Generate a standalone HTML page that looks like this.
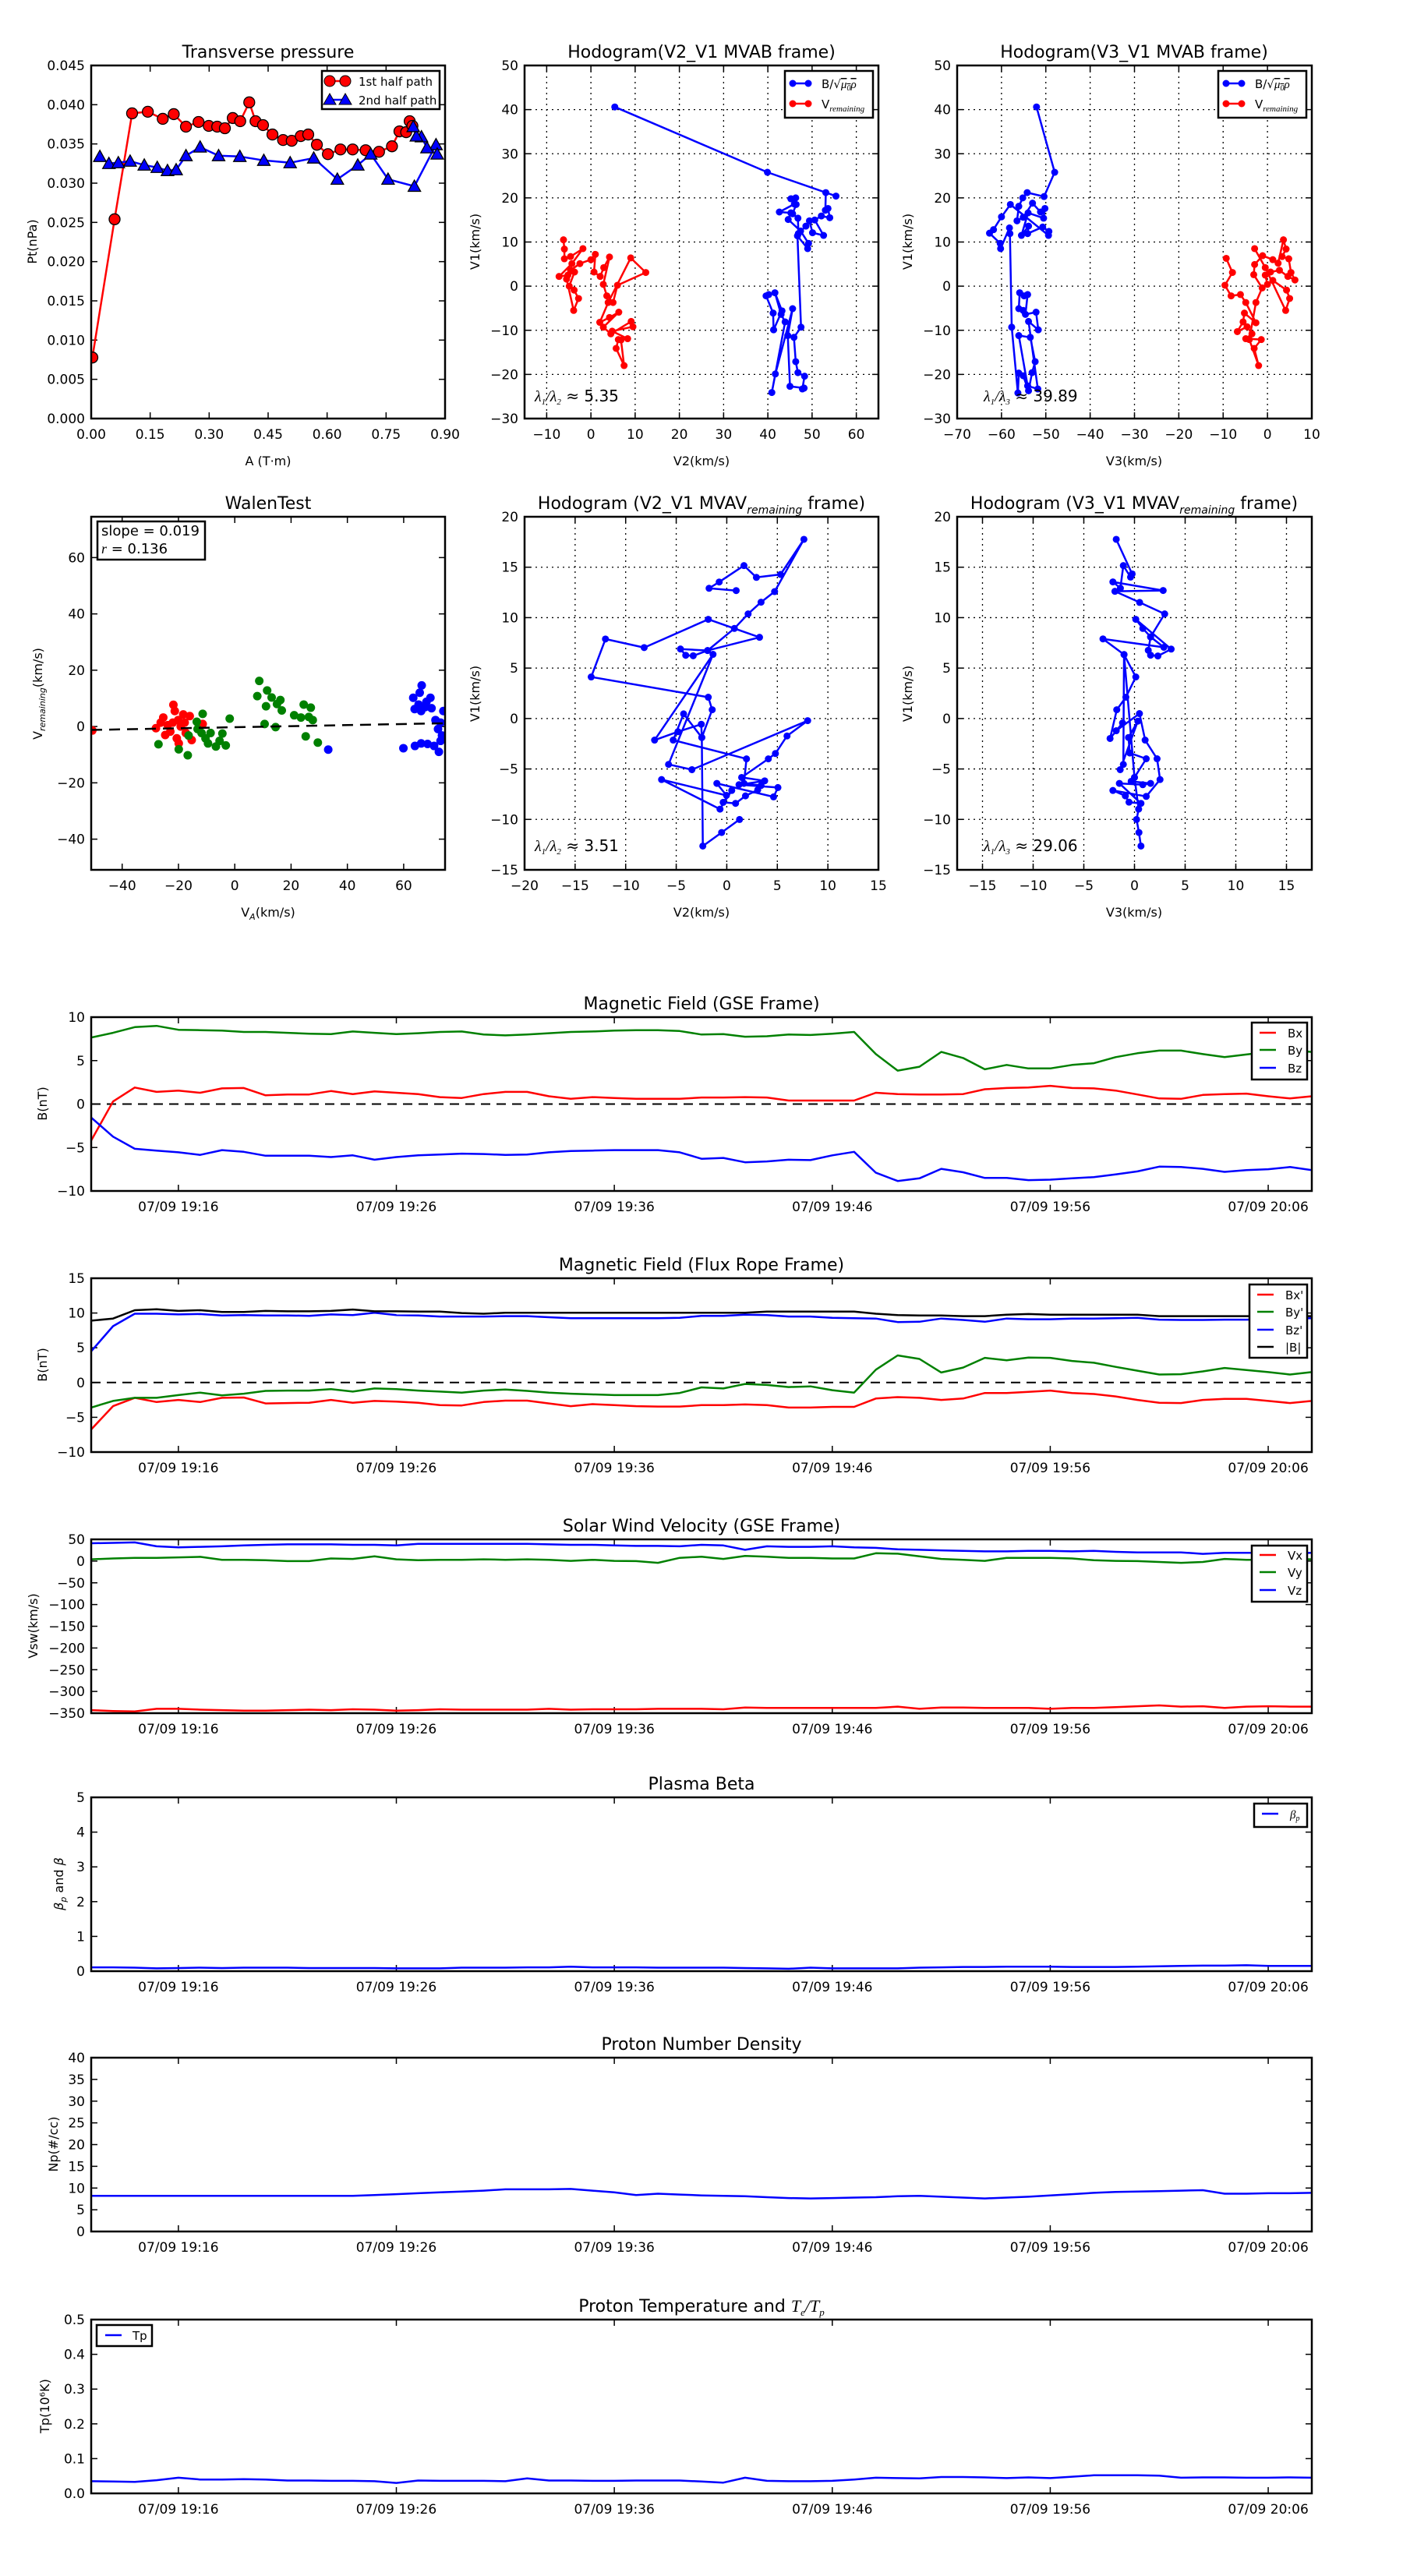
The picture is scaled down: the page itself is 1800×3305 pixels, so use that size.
<!DOCTYPE html>
<html><head><meta charset="utf-8"><title>Flux rope analysis</title>
<style>
html,body{margin:0;padding:0;background:#fff;}
svg text{font-family:"DejaVu Sans","Liberation Sans",sans-serif;fill:#000;}
.ttl{font-size:22px;text-anchor:middle;}
.lab{font-size:16px;text-anchor:middle;}
.leg{font-size:15px;}
</style></head>
<body>
<svg id="fig" width="1800" height="3300" xmlns="http://www.w3.org/2000/svg">
<rect x="0" y="0" width="1800" height="3300" fill="#fff"/>
<!-- titles -->
<text class="ttl" x="344" y="74">Transverse pressure</text>
<text class="ttl" x="900" y="74">Hodogram(V2_V1 MVAB frame)</text>
<text class="ttl" x="1455" y="74">Hodogram(V3_V1 MVAB frame)</text>
<text class="ttl" x="344" y="653">WalenTest</text>
<text class="ttl" x="900" y="653">Hodogram (V2_V1 MVAV<tspan font-size="14" font-style="italic" dy="6">remaining</tspan><tspan dy="-6"> frame)</tspan></text>
<text class="ttl" x="1455" y="653">Hodogram (V3_V1 MVAV<tspan font-size="14" font-style="italic" dy="6">remaining</tspan><tspan dy="-6"> frame)</tspan></text>
<text class="ttl" x="900" y="1295">Magnetic Field (GSE Frame)</text>
<text class="ttl" x="900" y="1630">Magnetic Field (Flux Rope Frame)</text>
<text class="ttl" x="900" y="1965">Solar Wind Velocity (GSE Frame)</text>
<text class="ttl" x="900" y="2296">Plasma Beta</text>
<text class="ttl" x="900" y="2630">Proton Number Density</text>
<text class="ttl" x="900" y="2966">Proton Temperature and <tspan font-style="italic" font-family="Liberation Serif">T<tspan font-size="13" dy="5">e</tspan><tspan dy="-5">/T</tspan><tspan font-size="13" dy="5">p</tspan></tspan></text>
<!-- axis labels -->
<text class="lab" x="344" y="597">A (T·m)</text>
<text class="lab" x="900" y="597">V2(km/s)</text>
<text class="lab" x="1455" y="597">V3(km/s)</text>
<text class="lab" x="344" y="1176">V<tspan font-size="11" font-style="italic" dy="4">A</tspan><tspan dy="-4">(km/s)</tspan></text>
<text class="lab" x="900" y="1176">V2(km/s)</text>
<text class="lab" x="1455" y="1176">V3(km/s)</text>
<text class="lab" transform="rotate(-90 41 310)" x="41" y="316">Pt(nPa)</text>
<text class="lab" transform="rotate(-90 609 310)" x="609" y="316">V1(km/s)</text>
<text class="lab" transform="rotate(-90 1164 310)" x="1164" y="316">V1(km/s)</text>
<text class="lab" transform="rotate(-90 48 890)" x="48" y="896">V<tspan font-size="11" font-style="italic" dy="4">remaining</tspan><tspan dy="-4">(km/s)</tspan></text>
<text class="lab" transform="rotate(-90 609 890)" x="609" y="896">V1(km/s)</text>
<text class="lab" transform="rotate(-90 1164 890)" x="1164" y="896">V1(km/s)</text>
<text class="lab" transform="rotate(-90 54 1416)" x="54" y="1422">B(nT)</text>
<text class="lab" transform="rotate(-90 54 1751)" x="54" y="1757">B(nT)</text>
<text class="lab" transform="rotate(-90 42 2086)" x="42" y="2092">Vsw(km/s)</text>
<text class="lab" transform="rotate(-90 75 2417)" x="75" y="2423"><tspan font-style="italic">β<tspan font-size="11" dy="4">p</tspan></tspan><tspan dy="-4"> and </tspan><tspan font-style="italic">β</tspan></text>
<text class="lab" transform="rotate(-90 68 2751)" x="68" y="2757">Np(#/cc)</text>
<text class="lab" transform="rotate(-90 57 3087)" x="57" y="3093">Tp(10⁶K)</text>
</svg>
<script>
// ---------------- DATA ----------------
// Transverse pressure
const tpA1 = [0.003,0.0595,0.104,0.144,0.182,0.210,0.241,0.273,0.299,0.3205,0.340,0.360,0.379,0.402,0.418,0.437,0.461,0.488,0.510,0.533,0.552,0.574,0.602,0.634,0.665,0.698,0.732,0.765,0.784,0.801,0.810,0.817];
const tpP1 = [0.00778,0.0254,0.0389,0.0391,0.0382,0.0388,0.0372,0.0378,0.0373,0.0372,0.0370,0.0383,0.0379,0.0403,0.0379,0.0374,0.0362,0.0355,0.0354,0.0360,0.0362,0.0349,0.0337,0.0343,0.0343,0.0342,0.0340,0.0347,0.0366,0.0365,0.0379,0.0373];
const tpA2 = [0.022,0.045,0.069,0.099,0.135,0.168,0.194,0.216,0.241,0.277,0.324,0.378,0.439,0.506,0.566,0.626,0.678,0.711,0.755,0.822,0.877,0.880,0.854,0.840,0.827,0.819];
const tpP2 = [0.0334,0.0325,0.0326,0.0328,0.0323,0.0320,0.0316,0.0317,0.0335,0.0346,0.0335,0.0334,0.0329,0.0326,0.0332,0.0305,0.0323,0.0337,0.0305,0.0296,0.0349,0.0337,0.0345,0.0359,0.0360,0.0372];
const tpXTicks = [0,0.15,0.30,0.45,0.60,0.75,0.90];
const tpXLabels = ["0.00","0.15","0.30","0.45","0.60","0.75","0.90"];
const tpYTicks = [0,0.005,0.010,0.015,0.020,0.025,0.030,0.035,0.040,0.045];
const tpYLabels = ["0.000","0.005","0.010","0.015","0.020","0.025","0.030","0.035","0.040","0.045"];

// Hodogram V2-V1 MVAB
const h2bX = [5.4,39.9,55.4,53.1,53.0,53.6,54.0,52.1,50.6,52.6,50.1,49.4,48.6,46.9,46.8,45.6,46.4,45.2,46.3,46.0,42.6,45.2,44.6,47.4,49.2,49.0,46.7,47.5,45.9,46.3,46.8,48.3,47.8,48.2,45.0,44.5,45.6,41.7,40.9,43.9,43.0,41.6,43.2,41.3,41.2,39.6,40.2];
const h2bY = [40.6,25.8,20.4,21.2,17.2,17.6,15.5,15.9,15.0,11.5,12.1,14.8,13.6,11.9,15.4,16.4,18.5,19.8,20.0,18.6,16.8,16.6,15.1,12.5,9.7,8.5,11.4,-9.3,-11.6,-17.1,-19.6,-20.4,-23.3,-23.1,-22.7,-11.2,-5.1,-19.9,-24.1,-8.1,-6.4,-1.5,-5.6,-9.9,-6.1,-2.2,-1.9];
const h2vX = [-6.2,-6.0,-6.0,-4.6,-1.8,-4.3,-7.2,-5.2,-3.7,-4.9,-3.8,-2.8,-3.9,-5.5,-4.6,-2.5,0,1.0,0.7,2.1,2.9,4.2,2.8,3.6,5.0,6.0,12.4,9.0,3.9,2.0,4.2,6.3,2.8,4.5,9.1,9.5,4.8,8.3,6.2,5.7,7.5,6.8];
const h2vY = [10.5,8.4,6.2,6.7,8.5,5.1,2.2,2.5,3.2,0.0,-0.9,-2.8,-5.5,1.6,3.6,5.1,6.0,7.2,3.2,2.2,4.2,6.6,0.4,-2.2,-3.7,0.2,3.1,6.4,-3.7,-8.2,-7.1,-5.9,-9.3,-10.8,-8.0,-9.2,-10.2,-11.9,-12.1,-14.1,-18.0,-12.2];
const h2XTicks = [-10,0,10,20,30,40,50,60];
const h2XLabels = ["−10","0","10","20","30","40","50","60"];
const h1YTicks = [-30,-20,-10,0,10,20,30,40,50];
const h1YLabels = ["−30","−20","−10","0","10","20","30","40","50"];

// Hodogram V3-V1 MVAB
const h3bX = [-52.1,-48.0,-50.4,-54.2,-55.2,-56.1,-56.5,-55.1,-53.0,-51.2,-50.2,-50.5,-54.0,-55.5,-53.9,-54.1,-50.7,-49.3,-49.4,-58.0,-60.0,-61.8,-62.7,-60.3,-60.2,-58.2,-58.1,-57.7,-56.3,-56.1,-55.1,-53.9,-53.1,-52.4,-53.5,-56.1,-54.1,-51.8,-53.9,-51.7,-52.2,-54.6,-54.1,-54.9,-55.9,-56.1,-55.1];
const h3bY = [40.6,25.8,20.3,21.2,20.0,18.1,14.8,15.6,18.8,16.8,17.6,15.4,16.6,11.5,13.6,11.9,13.4,12.4,11.5,18.5,15.7,12.8,12.0,9.7,8.5,13.2,11.9,-9.3,-24.2,-19.7,-20.3,-23.7,-19.6,-17.1,-11.6,-11.2,-22.6,-23.3,-8.0,-9.9,-5.9,-6.4,-1.9,-2.2,-1.5,-5.1,-5.5];
const h3vX = [-9.3,-7.9,-9.6,-8.2,-6.1,-4.9,-2.6,-5.2,-5.5,-6.8,-4.6,-3.5,-4.9,-1.4,-3.0,-2.0,-4.1,-2.6,-1.2,-3.1,-2.9,-1.1,1.2,2.4,3.6,4.2,3.3,4.8,5.3,6.2,4.6,2.7,0.7,-0.5,0.0,1.2,4.3,5.0,4.1,-0.5,-2.9];
const h3vY = [6.3,3.1,0.2,-2.2,-1.9,-3.7,-8.3,-6.1,-8.1,-10.3,-9.2,-10.8,-11.9,-12.1,-14.1,-18.0,-12.1,-3.7,-0.4,2.6,4.9,6.9,6.0,5.2,10.5,8.4,6.7,6.2,3.1,1.4,2.2,3.6,3.2,2.5,0.4,1.3,-0.9,-2.8,-5.5,4.2,8.5];
const h3XTicks = [-70,-60,-50,-40,-30,-20,-10,0,10];
const h3XLabels = ["−70","−60","−50","−40","−30","−20","−10","0","10"];

// Walen test
const walRedX = [-50.6,-21.8,-21.3,-25.4,-28,-26.3,-24.7,-22.9,-20.6,-19.9,-18.3,-16,-17.8,-15.3,-11.4,-22,-19.2,-17.4,-23.8,-20.1];
const walRedY = [-1.4,7.7,5.5,3.2,-0.6,1.4,-3.0,-1.8,-4.2,-6.0,4.3,3.7,1.4,-4.8,0.9,1.4,0,-2.3,0.5,2.3];
const walGreenX = [-27.1,-19.9,-16.7,-16.4,-13.5,-11.4,-13.2,-10.4,-8.6,-6.7,-4.4,-3.2,-1.8,-5.4,-9.5,-11.8,8.7,8.0,11.5,13.1,11.1,15.0,16.2,16.7,10.6,14.5,21.1,23.5,24.5,27.0,26.3,27.7,25.2,29.5];
const walGreenY = [-6.3,-8.1,-10.2,-3.2,1.7,4.5,-0.9,-4.2,-2.3,-7.1,-2.5,-6.7,2.8,-5.1,-6.0,-2.3,16.2,10.8,12.8,10.3,7.2,8.0,9.4,5.7,0.9,-0.2,4.0,3.2,7.8,6.7,3.4,2.3,-3.5,-5.7];
const walBlueX = [33.2,59.9,64.0,66.2,68.5,70.8,72.5,73.1,73.6,72.2,71.3,74.1,69.9,67.6,66.2,63.9,63.4,65.7,66.4,69.5,68.1,65.3,73.1];
const walBlueY = [-8.2,-7.7,-6.9,-6.0,-6.2,-6.9,-9.0,-5.1,-3.2,-0.9,2.3,5.5,6.5,6.9,5.5,6.2,10.2,12.0,14.6,10.2,8.8,7.8,1.4];
const walFit = [0.019,-0.25];
const walTicks = [-40,-20,0,20,40,60];
const walLabels = ["−40","−20","0","20","40","60"];

// Hodogram MVAV V2-V1
const m2X = [0.93,-1.75,-0.75,1.70,2.93,5.32,7.63,4.73,3.39,2.11,0.75,-1.90,-4.58,-4.06,-3.32,-1.90,3.24,-1.83,-8.17,-12.00,-13.41,-1.83,-1.44,-2.47,-4.27,-5.30,1.95,1.70,3.39,3.06,1.85,0.87,-0.36,0.49,-0.67,-6.45,-0.03,-0.98,4.63,5.06,1.21,3.75,1.47,4.11,4.81,5.96,8.00,-3.45,-5.76,-1.36,-7.14,-4.83,-2.52,-2.47,-2.37,-0.51,1.26];
const m2Y = [12.68,12.91,13.53,15.16,13.99,14.28,17.76,12.58,11.53,10.37,8.93,6.74,6.89,6.27,6.22,6.74,8.05,9.83,7.03,7.88,4.12,2.11,0.87,-1.88,0.46,-2.14,-4.00,-6.43,-6.64,-7.08,-7.67,-8.41,-8.31,-7.13,-8.98,-6.05,-7.62,-6.43,-7.77,-6.84,-6.56,-6.18,-5.84,-4.00,-3.47,-1.73,-0.21,-5.07,-4.55,6.36,-2.14,-1.31,-0.57,-1.88,-12.64,-11.30,-10.01];
const m2XTicks = [-20,-15,-10,-5,0,5,10,15];
const m2XLabels = ["−20","−15","−10","−5","0","5","10","15"];
const mYTicks = [-15,-10,-5,0,5,10,15,20];
const mYLabels = ["−15","−10","−5","0","5","10","15","20"];

// Hodogram MVAV V3-V1
const m3X = [-1.80,-0.23,-0.39,-1.10,-1.39,-2.13,2.83,-1.93,0.51,2.98,1.59,1.36,1.59,2.31,3.62,0.13,0.82,1.59,2.90,-3.11,-1.03,0.13,-0.85,-1.75,-2.41,-1.18,-1.80,0.49,1.05,2.23,2.52,1.16,-2.13,-0.90,-0.54,0.64,-1.49,0.82,1.59,-0.33,0.00,1.16,-0.46,-0.59,0.33,-1.41,-1.10,-1.03,0.00,0.41,0.21,0.44,0.64];
const m3Y = [17.76,14.33,14.02,15.16,12.92,13.54,12.69,12.61,11.51,10.37,8.09,6.76,6.28,6.20,6.88,9.83,8.93,8.09,7.06,7.89,6.34,4.12,2.11,0.87,-1.98,-0.44,-1.21,0.49,-2.14,-3.99,-6.05,-7.72,-7.13,-7.67,-8.29,-8.41,-6.43,-6.56,-6.43,-6.23,-5.84,-3.99,-3.42,-1.88,-0.26,-5.07,-4.55,6.34,-5.84,-8.98,-10.01,-11.30,-12.64];
const m3XTicks = [-15,-10,-5,0,5,10,15];
const m3XLabels = ["−15","−10","−5","0","5","10","15"];

// Time series (minutes after 19:12)
const tsMinutes = [0,1,2,3,4,5,6,7,8,9,10,11,12,13,14,15,16,17,18,19,20,21,22,23,24,25,26,27,28,29,30,31,32,33,34,35,36,37,38,39,40,41,42,43,44,45,46,47,48,49,50,51,52,53,54,55,56];
const tsTickMinutes = [4,14,24,34,44,54];
const tsTickLabels = ["07/09 19:16","07/09 19:26","07/09 19:36","07/09 19:46","07/09 19:56","07/09 20:06"];
const gseBx = [-4.2,0.3,1.9,1.4,1.55,1.3,1.8,1.85,1.0,1.1,1.1,1.5,1.15,1.45,1.3,1.15,0.8,0.7,1.15,1.4,1.4,0.9,0.6,0.8,0.7,0.6,0.6,0.6,0.75,0.75,0.8,0.75,0.4,0.4,0.4,0.4,1.3,1.15,1.1,1.1,1.15,1.7,1.85,1.9,2.1,1.85,1.8,1.55,1.1,0.65,0.6,1.05,1.15,1.2,0.9,0.65,0.9];
const gseBy = [7.65,8.2,8.85,9.0,8.55,8.5,8.45,8.3,8.3,8.2,8.1,8.05,8.35,8.2,8.05,8.15,8.3,8.35,8.0,7.9,8.0,8.15,8.3,8.35,8.45,8.5,8.5,8.4,8.0,8.05,7.75,7.8,8.0,7.95,8.1,8.3,5.75,3.85,4.3,6.0,5.3,4.0,4.5,4.1,4.1,4.5,4.7,5.4,5.85,6.15,6.15,5.75,5.4,5.7,6.0,6.2,6.0];
const gseBz = [-1.55,-3.75,-5.15,-5.35,-5.55,-5.85,-5.3,-5.5,-5.95,-5.95,-5.95,-6.1,-5.9,-6.4,-6.1,-5.9,-5.8,-5.7,-5.75,-5.85,-5.8,-5.55,-5.4,-5.35,-5.3,-5.3,-5.3,-5.55,-6.3,-6.2,-6.7,-6.6,-6.4,-6.45,-5.9,-5.5,-7.9,-8.85,-8.55,-7.45,-7.85,-8.5,-8.5,-8.75,-8.7,-8.55,-8.4,-8.1,-7.75,-7.2,-7.25,-7.45,-7.8,-7.6,-7.5,-7.25,-7.6];
const frBx = [-6.75,-3.4,-2.2,-2.8,-2.5,-2.8,-2.2,-2.15,-3.0,-2.95,-2.9,-2.5,-2.9,-2.65,-2.75,-2.9,-3.25,-3.3,-2.8,-2.6,-2.6,-3.0,-3.4,-3.1,-3.25,-3.4,-3.45,-3.45,-3.25,-3.25,-3.15,-3.25,-3.6,-3.6,-3.5,-3.5,-2.3,-2.1,-2.2,-2.5,-2.3,-1.5,-1.5,-1.35,-1.15,-1.5,-1.65,-2.0,-2.5,-2.9,-2.95,-2.5,-2.35,-2.35,-2.65,-2.95,-2.65];
const frBy = [-3.6,-2.65,-2.2,-2.2,-1.8,-1.45,-1.85,-1.6,-1.2,-1.15,-1.15,-0.95,-1.3,-0.85,-0.95,-1.15,-1.3,-1.45,-1.15,-1.0,-1.2,-1.45,-1.6,-1.7,-1.8,-1.8,-1.8,-1.5,-0.7,-0.85,-0.2,-0.35,-0.65,-0.55,-1.1,-1.45,1.85,3.9,3.4,1.45,2.15,3.55,3.2,3.6,3.55,3.1,2.85,2.25,1.7,1.15,1.2,1.6,2.1,1.8,1.5,1.15,1.5];
const frBz = [4.5,8.1,9.9,9.9,9.8,9.85,9.65,9.7,9.65,9.65,9.6,9.8,9.7,10.05,9.7,9.65,9.5,9.5,9.5,9.55,9.55,9.4,9.25,9.25,9.25,9.25,9.25,9.3,9.6,9.6,9.75,9.7,9.5,9.5,9.3,9.25,9.2,8.7,8.75,9.2,9.0,8.75,9.2,9.1,9.1,9.2,9.2,9.25,9.3,9.05,9.0,9.0,9.05,9.05,9.1,9.2,9.25];
const frBt = [8.9,9.2,10.4,10.55,10.3,10.4,10.15,10.15,10.3,10.25,10.25,10.3,10.5,10.25,10.25,10.2,10.2,10.0,9.9,10.05,10.05,10.05,10.05,10.05,10.05,10.05,10.05,10.05,10.05,10.05,10.05,10.2,10.2,10.2,10.2,10.2,9.9,9.7,9.65,9.65,9.55,9.55,9.75,9.85,9.75,9.75,9.75,9.75,9.75,9.55,9.55,9.55,9.55,9.55,9.55,9.55,9.55];
const vswX = [-343,-345,-346,-340,-340,-342,-343,-344,-344,-343,-342,-343,-341,-342,-344,-343,-341,-342,-342,-342,-342,-340,-342,-341,-341,-341,-340,-340,-340,-341,-337,-338,-338,-338,-338,-338,-338,-335,-340,-337,-337,-338,-338,-338,-340,-338,-338,-336,-334,-332,-335,-334,-338,-335,-334,-335,-335];
const vswY = [4,6,7.5,7.5,8.6,9.8,3,3,2,0,0,6,5,11,4,2,3,3,4,3,4,3,0.5,3,0.5,0,-4,7.5,10,5,12,10,7.5,7.5,6,6,18,17,11,5,3,0.5,7.5,7.5,7.5,6,2,0.5,0,-2,-4,-2,5,3,3,5,4];
const vswZ = [41,42,43,34,31.6,32.8,34,36,37.4,38.5,38.5,38.5,37.4,37.4,36,39.6,39.6,39.6,39.6,39.6,39.6,38.5,37.4,37.4,36,35,35,34,37.4,36,26,34,32.8,32.8,34,31.6,30.5,27,26,24.7,23.6,22.4,22.4,23.6,23.6,22.4,23.6,21.3,20.1,20.1,20.1,16.7,19,19,19,17.8,19];
const betaP = [0.11,0.11,0.10,0.08,0.09,0.10,0.09,0.10,0.10,0.10,0.09,0.09,0.09,0.09,0.08,0.08,0.08,0.10,0.10,0.10,0.11,0.11,0.13,0.11,0.11,0.11,0.10,0.10,0.10,0.10,0.09,0.08,0.07,0.10,0.08,0.08,0.08,0.08,0.10,0.11,0.12,0.12,0.13,0.13,0.13,0.12,0.12,0.12,0.13,0.14,0.15,0.16,0.16,0.17,0.15,0.15,0.15];
const densNp = [8.2,8.2,8.2,8.2,8.2,8.2,8.2,8.2,8.2,8.2,8.2,8.2,8.2,8.4,8.6,8.8,9.0,9.2,9.4,9.7,9.7,9.7,9.8,9.4,9.0,8.4,8.7,8.5,8.3,8.2,8.1,7.9,7.7,7.6,7.7,7.8,7.9,8.1,8.2,8.0,7.8,7.6,7.8,8.0,8.3,8.6,8.9,9.1,9.2,9.3,9.4,9.5,8.7,8.7,8.8,8.8,8.9];
const tempTp = [0.035,0.034,0.033,0.038,0.045,0.040,0.040,0.041,0.040,0.037,0.037,0.036,0.036,0.035,0.030,0.037,0.036,0.036,0.036,0.035,0.043,0.037,0.037,0.036,0.036,0.037,0.037,0.037,0.034,0.031,0.045,0.036,0.035,0.035,0.036,0.040,0.045,0.044,0.043,0.047,0.047,0.046,0.044,0.046,0.044,0.048,0.052,0.052,0.052,0.051,0.045,0.046,0.046,0.045,0.045,0.046,0.045];
const gseYTicks = [-10,-5,0,5,10];
const gseYLabels = ["−10","−5","0","5","10"];
const frYTicks = [-10,-5,0,5,10,15];
const frYLabels = ["−10","−5","0","5","10","15"];
const vYTicks = [-350,-300,-250,-200,-150,-100,-50,0,50];
const vYLabels = ["−350","−300","−250","−200","−150","−100","−50","0","50"];
const bYTicks = [0,1,2,3,4,5];
const bYLabels = ["0","1","2","3","4","5"];
const nYTicks = [0,5,10,15,20,25,30,35,40];
const nYLabels = ["0","5","10","15","20","25","30","35","40"];
const tYTicks = [0,0.1,0.2,0.3,0.4,0.5];
const tYLabels = ["0.0","0.1","0.2","0.3","0.4","0.5"];

// ---------------- DRAWING ----------------
const NS = 'http://www.w3.org/2000/svg';
const fig = document.getElementById('fig');
let clipN = 0;
function mk(tag, parent) { const e = document.createElementNS(NS, tag); (parent || fig).appendChild(e); return e; }
function attrs(e, a) { for (const k in a) e.setAttribute(k, a[k]); return e; }

function makeAxes(name, L, T, W, H, x0, x1, y0, y1, xt, xl, yt, yl, grid) {
  const g = mk('g');
  
  
  const sx = v => L + (v - x0) / (x1 - x0) * W;
  const sy = v => T + H - (v - y0) / (y1 - y0) * H;
  const cid = 'clip' + (clipN++);
  const cp = mk('clipPath', g); cp.setAttribute('id', cid);
  attrs(mk('rect', cp), {x: L, y: T, width: W, height: H});
  if (grid) {
    xt.forEach(v => { const ln = mk('line', g); attrs(ln, {x1: sx(v), x2: sx(v), y1: T, y2: T + H, stroke: '#000', 'stroke-width': 1.3, 'stroke-dasharray': '2,5'});
        });
    yt.forEach(v => { const ln = mk('line', g); attrs(ln, {x1: L, x2: L + W, y1: sy(v), y2: sy(v), stroke: '#000', 'stroke-width': 1.3, 'stroke-dasharray': '2,5'});
        });
  }
  xt.forEach((v, i) => {
    const X = sx(v);
    const t1 = mk('line', g); attrs(t1, {x1: X, x2: X, y1: T + H, y2: T + H - 8, stroke: '#000', 'stroke-width': 1.5});
     
    const t2 = mk('line', g); attrs(t2, {x1: X, x2: X, y1: T, y2: T + 8, stroke: '#000', 'stroke-width': 1.5});
     
    const tx = mk('text', g); attrs(tx, {x: X, y: T + H + 26, 'text-anchor': 'middle', 'font-size': 17});
     
    tx.textContent = xl[i];
  });
  yt.forEach((v, i) => {
    const Y = sy(v);
    const t1 = mk('line', g); attrs(t1, {x1: L, x2: L + 8, y1: Y, y2: Y, stroke: '#000', 'stroke-width': 1.5});
     
    const t2 = mk('line', g); attrs(t2, {x1: L + W, x2: L + W - 8, y1: Y, y2: Y, stroke: '#000', 'stroke-width': 1.5});
     
    const tx = mk('text', g); attrs(tx, {x: L - 8, y: Y + 6, 'text-anchor': 'end', 'font-size': 17});
     
    tx.textContent = yl[i];
  });
  const dg = mk('g', g); dg.setAttribute('clip-path', 'url(#' + cid + ')');
   
  return {g, dg, sx, sy, L, T, W, H, finish() {
    const fr = mk('rect', g); attrs(fr, {x: L, y: T, width: W, height: H, fill: 'none', stroke: '#000', 'stroke-width': 2.5});
     
  }};
}
function line(ax, xs, ys, color, w, nm, dash) {
  const p = mk('polyline', ax.dg);
  const pts = xs.map((x, i) => ax.sx(x).toFixed(1) + ',' + ax.sy(ys[i]).toFixed(1)).join(' ');
  attrs(p, {points: pts, fill: 'none', stroke: color, 'stroke-width': w, 'stroke-linejoin': 'round'});
  if (dash) p.setAttribute('stroke-dasharray', dash);
  
  
  return p;
}
function dots(ax, xs, ys, color, r, nm, stroke) {
  xs.forEach((x, i) => {
    const c = mk('circle', ax.dg);
    attrs(c, {cx: ax.sx(x), cy: ax.sy(ys[i]), r: r, fill: color});
    if (stroke) { c.setAttribute('stroke', '#000'); c.setAttribute('stroke-width', 1.3); }
    
    
  });
}
function tris(ax, xs, ys, color, s, nm) {
  xs.forEach((x, i) => {
    const X = ax.sx(x), Y = ax.sy(ys[i]);
    const p = mk('polygon', ax.dg);
    attrs(p, {points: `${X},${Y - s} ${X - s},${Y + s * 0.8} ${X + s},${Y + s * 0.8}`, fill: color, stroke: '#000', 'stroke-width': 1.3});
    
    
  });
}
function legendBox(x, y, w, h, nm) {
  const r = mk('rect'); attrs(r, {x, y, width: w, height: h, fill: '#fff', stroke: '#000', 'stroke-width': 2.5});
   
}
function legendLine(x1, x2, y, color, nm, markerR) {
  const l = mk('line'); attrs(l, {x1, x2, y1: y, y2: y, stroke: color, 'stroke-width': 2.5});
   
  if (markerR) [x1, x2].forEach(cx => { const c = mk('circle'); attrs(c, {cx, cy: y, r: markerR, fill: color});
      });
}
function legendText(x, y, html, nm, size) {
  const t = mk('text'); attrs(t, {x, y: y + 6, 'font-size': size || 15});
   
  t.innerHTML = html;
}

// Row 1
const R1T = 84, RH = 453, R2T = 663;
const axTP = makeAxes('transverse-pressure-chart', 117, R1T, 454, RH, 0, 0.9, 0, 0.045, tpXTicks, tpXLabels, tpYTicks, tpYLabels, false);
line(axTP, tpA1, tpP1, '#ff0000', 2.5, '1st-half-path-line');
line(axTP, tpA2, tpP2, '#0000ff', 2.5, '2nd-half-path-line');
dots(axTP, tpA1, tpP1, '#ff0000', 7, '1st-half-point', true);
tris(axTP, tpA2, tpP2, '#0000ff', 8, '2nd-half-point');
axTP.finish();
legendBox(413, 91, 151, 49, 'transverse-legend');
legendLine(423, 443, 104, '#ff0000', 'legend-1st-half');
{ const c1 = mk('circle'); attrs(c1, {cx: 423, cy: 104, r: 7, fill: '#f00', stroke: '#000'});  
  const c2 = mk('circle'); attrs(c2, {cx: 443, cy: 104, r: 7, fill: '#f00', stroke: '#000'});   }
legendLine(423, 443, 128, '#0000ff', 'legend-2nd-half');
{ [423, 443].forEach(X => { const p = mk('polygon'); attrs(p, {points: `${X},120 ${X - 8},134 ${X + 8},134`, fill: '#00f', stroke: '#000'});
    }); }
legendText(460, 104, '1st half path', 'legend-1st-half-text');
legendText(460, 128, '2nd half path', 'legend-2nd-half-text');

const axH2 = makeAxes('hodogram-v2-v1-mvab-chart', 673, R1T, 454, RH, -15, 65, -30, 50, h2XTicks, h2XLabels, h1YTicks, h1YLabels, true);
line(axH2, h2bX, h2bY, '#0000ff', 2.5, 'b-alfven-line');
dots(axH2, h2bX, h2bY, '#0000ff', 4.5, 'b-alfven-point');
line(axH2, h2vX, h2vY, '#ff0000', 2.5, 'v-remaining-line');
dots(axH2, h2vX, h2vY, '#ff0000', 4.5, 'v-remaining-point');
axH2.finish();

const axH3 = makeAxes('hodogram-v3-v1-mvab-chart', 1228, R1T, 455, RH, -70, 10, -30, 50, h3XTicks, h3XLabels, h1YTicks, h1YLabels, true);
line(axH3, h3bX, h3bY, '#0000ff', 2.5, 'b-alfven-line');
dots(axH3, h3bX, h3bY, '#0000ff', 4.5, 'b-alfven-point');
line(axH3, h3vX, h3vY, '#ff0000', 2.5, 'v-remaining-line');
dots(axH3, h3vX, h3vY, '#ff0000', 4.5, 'v-remaining-point');
axH3.finish();

const bLabel = 'B/√<tspan text-decoration="overline" font-style="italic" font-family="Liberation Serif">μ<tspan font-size="10" dy="3">0</tspan><tspan dy="-3">ρ</tspan></tspan>';
const vLabel = 'V<tspan font-size="11" font-style="italic" font-family="Liberation Serif" dy="4">remaining</tspan>';
[[1007, 'hodo2'], [1563, 'hodo3']].forEach(([lx, nm]) => {
  legendBox(lx, 91, 113, 60, nm + '-legend');
  legendLine(lx + 10, lx + 30, 107, '#0000ff', nm + '-legend-b', 4.5);
  legendLine(lx + 10, lx + 30, 133, '#ff0000', nm + '-legend-v', 4.5);
  legendText(lx + 47, 107, bLabel, nm + '-legend-b-text', 15);
  legendText(lx + 47, 133, vLabel, nm + '-legend-v-text', 15);
});
legendText(686, 509, '<tspan font-style="italic" font-family="Liberation Serif">λ<tspan font-size="11" dy="4">1</tspan><tspan dy="-4">/λ</tspan><tspan font-size="11" dy="4">2</tspan></tspan><tspan dy="-4"> ≈ 5.35</tspan>', 'eigen-ratio-hodo2', 20);
legendText(1262, 509, '<tspan font-style="italic" font-family="Liberation Serif">λ<tspan font-size="11" dy="4">1</tspan><tspan dy="-4">/λ</tspan><tspan font-size="11" dy="4">3</tspan></tspan><tspan dy="-4"> ≈ 39.89</tspan>', 'eigen-ratio-hodo3', 20);

// Row 2
const axW = makeAxes('walen-test-chart', 117, R2T, 454, RH, -51, 74.7, -50.9, 74.5, walTicks, walLabels, walTicks.slice(0, 6), walLabels, false);
dots(axW, walRedX, walRedY, '#ff0000', 5.5, 'walen-point-red');
dots(axW, walGreenX, walGreenY, '#008000', 5.5, 'walen-point-green');
dots(axW, walBlueX, walBlueY, '#0000ff', 5.5, 'walen-point-blue');
line(axW, [-51, 74.7], [walFit[0] * -51 + walFit[1], walFit[0] * 74.7 + walFit[1]], '#000', 2.5, 'walen-fit-line', '14,9');
axW.finish();
legendBox(125, 669, 138, 49, 'walen-stats-box');
legendText(130, 681, 'slope = 0.019', 'walen-slope-text', 18);
legendText(130, 704, '<tspan font-style="italic" font-family="Liberation Serif">r</tspan> = 0.136', 'walen-r-text', 18);

const axM2 = makeAxes('hodogram-v2-v1-mvav-chart', 673, R2T, 454, RH, -20, 15, -15, 20, m2XTicks, m2XLabels, mYTicks, mYLabels, true);
line(axM2, m2X, m2Y, '#0000ff', 2.5, 'mvav2-line');
dots(axM2, m2X, m2Y, '#0000ff', 4.5, 'mvav2-point');
axM2.finish();
const axM3 = makeAxes('hodogram-v3-v1-mvav-chart', 1228, R2T, 455, RH, -17.5, 17.5, -15, 20, m3XTicks, m3XLabels, mYTicks, mYLabels, true);
line(axM3, m3X, m3Y, '#0000ff', 2.5, 'mvav3-line');
dots(axM3, m3X, m3Y, '#0000ff', 4.5, 'mvav3-point');
axM3.finish();
legendText(686, 1086, '<tspan font-style="italic" font-family="Liberation Serif">λ<tspan font-size="11" dy="4">1</tspan><tspan dy="-4">/λ</tspan><tspan font-size="11" dy="4">2</tspan></tspan><tspan dy="-4"> ≈ 3.51</tspan>', 'eigen-ratio-mvav2', 20);
legendText(1262, 1086, '<tspan font-style="italic" font-family="Liberation Serif">λ<tspan font-size="11" dy="4">1</tspan><tspan dy="-4">/λ</tspan><tspan font-size="11" dy="4">3</tspan></tspan><tspan dy="-4"> ≈ 29.06</tspan>', 'eigen-ratio-mvav3', 20);

// Time series
const TSL = 117, TSW = 1566, TSH = 223;
function tsAxes(name, top, y0, y1, yt, yl) {
  return makeAxes(name, TSL, top, TSW, TSH, 0, 56, y0, y1, tsTickMinutes, tsTickLabels, yt, yl, false);
}
const axG = tsAxes('mag-gse-chart', 1305, -10, 10, gseYTicks, gseYLabels);
line(axG, [0, 56], [0, 0], '#000', 2, 'zero-line', '12,8');
line(axG, tsMinutes, gseBx, '#ff0000', 2.5, 'bx-line');
line(axG, tsMinutes, gseBy, '#008000', 2.5, 'by-line');
line(axG, tsMinutes, gseBz, '#0000ff', 2.5, 'bz-line');
axG.finish();
legendBox(1606, 1312, 71, 73, 'mag-gse-legend');
[['Bx', '#ff0000', 1325], ['By', '#008000', 1347], ['Bz', '#0000ff', 1370]].forEach(([t, c, y]) => {
  legendLine(1616, 1637, y, c, 'legend-' + t.toLowerCase());
  legendText(1652, y, t, 'legend-' + t.toLowerCase() + '-text', 15);
});

const axF = tsAxes('mag-fluxrope-chart', 1640, -10, 15, frYTicks, frYLabels);
line(axF, [0, 56], [0, 0], '#000', 2, 'zero-line', '12,8');
line(axF, tsMinutes, frBx, '#ff0000', 2.5, 'bx-prime-line');
line(axF, tsMinutes, frBy, '#008000', 2.5, 'by-prime-line');
line(axF, tsMinutes, frBz, '#0000ff', 2.5, 'bz-prime-line');
line(axF, tsMinutes, frBt, '#000000', 2.5, 'b-total-line');
axF.finish();
legendBox(1603, 1648, 74, 94, 'mag-fluxrope-legend');
[["Bx'", '#ff0000', 1661], ["By'", '#008000', 1683], ["Bz'", '#0000ff', 1706], ['|B|', '#000000', 1728]].forEach(([t, c, y], i) => {
  legendLine(1613, 1634, y, c, 'legend-fr-' + i);
  legendText(1649, y, t, 'legend-fr-text-' + i, 15);
});

const axV = tsAxes('velocity-chart', 1975, -350, 50, vYTicks, vYLabels);
line(axV, tsMinutes, vswX, '#ff0000', 2.5, 'vx-line');
line(axV, tsMinutes, vswY, '#008000', 2.5, 'vy-line');
line(axV, tsMinutes, vswZ, '#0000ff', 2.5, 'vz-line');
axV.finish();
legendBox(1606, 1983, 71, 72, 'velocity-legend');
[['Vx', '#ff0000', 1995], ['Vy', '#008000', 2017], ['Vz', '#0000ff', 2040]].forEach(([t, c, y]) => {
  legendLine(1616, 1637, y, c, 'legend-' + t.toLowerCase());
  legendText(1652, y, t, 'legend-' + t.toLowerCase() + '-text', 15);
});

const axB = tsAxes('plasma-beta-chart', 2306, 0, 5, bYTicks, bYLabels);
line(axB, tsMinutes, betaP, '#0000ff', 2.5, 'beta-p-line');
axB.finish();
legendBox(1609, 2314, 68, 30, 'beta-legend');
legendLine(1619, 1640, 2327, '#0000ff', 'legend-beta-p');
legendText(1655, 2327, '<tspan font-style="italic" font-family="Liberation Serif">β<tspan font-size="10" dy="3">p</tspan></tspan>', 'legend-beta-p-text', 15);

const axN = tsAxes('density-chart', 2640, 0, 40, nYTicks, nYLabels);
line(axN, tsMinutes, densNp, '#0000ff', 2.5, 'density-line');
axN.finish();

const axT = tsAxes('temperature-chart', 2976, 0, 0.5, tYTicks, tYLabels);
line(axT, tsMinutes, tempTp, '#0000ff', 2.5, 'tp-line');
axT.finish();
legendBox(124, 2983, 71, 27, 'temperature-legend');
legendLine(135, 156, 2996, '#0000ff', 'legend-tp');
legendText(170, 2996, 'Tp', 'legend-tp-text', 15);
</script>
</body></html>
